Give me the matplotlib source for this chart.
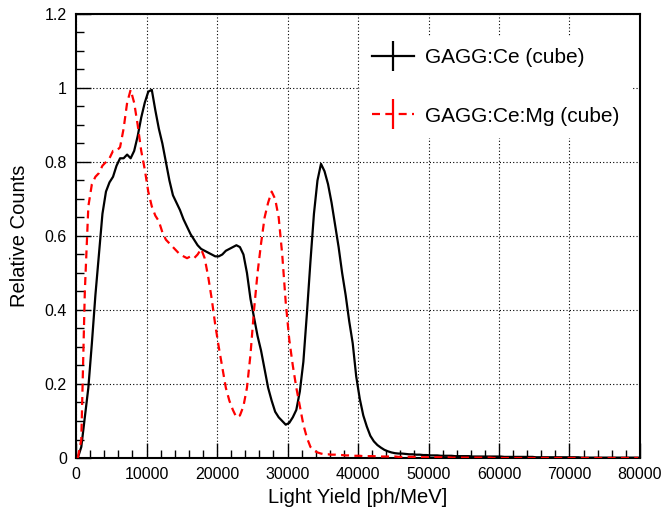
import numpy as np
import matplotlib.pyplot as plt
from matplotlib.lines import Line2D
from matplotlib.ticker import MultipleLocator

plt.rcParams['font.family'] = ['Liberation Sans', 'DejaVu Sans']

# histogram binning: 500 ph/MeV per bin, 0 - 80000
bin_width = 500
edges = np.arange(0, 80000 + bin_width, bin_width)
centers = edges[:-1] + bin_width / 2

# GAGG:Ce (cube), relative counts per bin
ce = [
    0.0, 0.03, 0.11, 0.19, 0.31, 0.44, 0.55, 0.66, 0.72, 0.745,
    0.76, 0.79, 0.81, 0.81, 0.82, 0.81, 0.83, 0.87, 0.92, 0.96,
    0.99, 0.995, 0.94, 0.89, 0.85, 0.80, 0.75, 0.71, 0.69, 0.67,
    0.645, 0.625, 0.605, 0.59, 0.575, 0.565, 0.56, 0.555, 0.55, 0.545,
    0.545, 0.55, 0.56, 0.565, 0.57, 0.575, 0.57, 0.55, 0.50, 0.43,
    0.38, 0.33, 0.29, 0.24, 0.19, 0.155, 0.125, 0.11, 0.10, 0.09,
    0.095, 0.11, 0.13, 0.18, 0.26, 0.39, 0.53, 0.66, 0.75, 0.795,
    0.775, 0.74, 0.69, 0.63, 0.57, 0.50, 0.44, 0.37, 0.31, 0.22,
    0.16, 0.115, 0.085, 0.06, 0.045, 0.035, 0.028, 0.022, 0.018, 0.015,
    0.013, 0.012, 0.012, 0.011, 0.010, 0.010, 0.009, 0.009, 0.008, 0.008,
    0.007, 0.007, 0.007, 0.006, 0.006, 0.006, 0.006, 0.005, 0.005, 0.005,
    0.005, 0.005, 0.004, 0.004, 0.004, 0.004, 0.004, 0.004, 0.004, 0.004,
    0.004, 0.003, 0.003, 0.003, 0.003, 0.003, 0.003, 0.003, 0.003, 0.003,
    0.002, 0.002, 0.002, 0.002, 0.002, 0.002, 0.002, 0.002, 0.002, 0.002,
    0.002, 0.002, 0.002, 0.001, 0.001, 0.001, 0.001, 0.001, 0.001, 0.001,
    0.001, 0.001, 0.001, 0.001, 0.001, 0.001, 0.001, 0.001, 0.001, 0.001,
]

# GAGG:Ce:Mg (cube)
ce_mg = [
    0.0, 0.05, 0.45, 0.68, 0.74, 0.76, 0.77, 0.79, 0.80, 0.81,
    0.83, 0.83, 0.84, 0.89, 0.96, 0.995, 0.96, 0.90, 0.83, 0.78,
    0.72, 0.68, 0.655, 0.64, 0.61, 0.59, 0.58, 0.57, 0.56, 0.55,
    0.545, 0.54, 0.545, 0.54, 0.55, 0.565, 0.54, 0.49, 0.43, 0.36,
    0.30, 0.245, 0.19, 0.155, 0.13, 0.11, 0.115, 0.14, 0.19, 0.28,
    0.40, 0.50, 0.58, 0.65, 0.69, 0.72, 0.70, 0.65, 0.55, 0.42,
    0.32, 0.25, 0.19, 0.14, 0.09, 0.055, 0.03, 0.02, 0.015, 0.012,
    0.010, 0.010, 0.009, 0.009, 0.008, 0.008, 0.007, 0.007, 0.006, 0.006,
    0.006, 0.005, 0.005, 0.005, 0.005, 0.004, 0.004, 0.004, 0.004, 0.004,
    0.004, 0.003, 0.003, 0.003, 0.003, 0.003, 0.003, 0.002, 0.002, 0.002,
    0.002, 0.002, 0.002, 0.002, 0.002, 0.002, 0.001, 0.001, 0.001, 0.001,
    0.001, 0.001, 0.001, 0.001, 0.001, 0.001, 0.001, 0.001, 0.0, 0.0,
    0.0, 0.0, 0.0, 0.0, 0.0, 0.0, 0.0, 0.0, 0.0, 0.0,
    0.0, 0.0, 0.0, 0.0, 0.0, 0.0, 0.0, 0.0, 0.0, 0.0,
    0.0, 0.0, 0.0, 0.0, 0.0, 0.0, 0.0, 0.0, 0.0, 0.0,
    0.0, 0.0, 0.0, 0.0, 0.0, 0.0, 0.0, 0.0, 0.0, 0.0,
]

labels = ["GAGG:Ce (cube)", "GAGG:Ce:Mg (cube)"]

fig = plt.figure(figsize=(6.65, 5.16), dpi=100)
ax = fig.add_axes([0.1143, 0.1124, 0.8481, 0.8605])

dash = (0, (3.6, 2.4))
# fine-binned histograms drawn as lines through the bin centres
ax.plot(centers, ce, color='black', lw=1.6, zorder=3)
ax.plot(centers, ce_mg, color='red', lw=1.6, linestyle=dash, zorder=3)

ax.set_xlim(0, 80000)
ax.set_ylim(0, 1.2)
ax.xaxis.set_major_locator(MultipleLocator(10000))
ax.xaxis.set_minor_locator(MultipleLocator(2000))
ax.yaxis.set_minor_locator(MultipleLocator(0.05))
ax.set_yticks([0, 0.2, 0.4, 0.6, 0.8, 1.0, 1.2], ['0', '0.2', '0.4', '0.6', '0.8', '1', '1.2'])

ax.tick_params(which='both', direction='in', top=False, right=False,
               labelsize=11.5, pad=6.5, width=1)
ax.tick_params(which='major', length=11)
ax.tick_params(which='minor', length=6)
for s in ax.spines.values():
    s.set_linewidth(1.5)

ax.grid(True, which='major', color='black', linestyle=(0, (1, 2)), linewidth=0.8)
ax.set_axisbelow(True)

ax.set_xlabel("Light Yield [ph/MeV]", fontsize=14.5, labelpad=4)
ax.set_ylabel("Relative Counts", fontsize=14.5, labelpad=11)

# legend with cross-shaped markers like error bars
h1 = Line2D([], [], color='black', lw=1.6, marker='|', markersize=22, markeredgewidth=1.6)
h2 = Line2D([], [], color='red', lw=1.6, linestyle=dash, marker='|', markersize=22, markeredgewidth=1.6)
leg = ax.legend([h1, h2], labels, loc='upper left', bbox_to_anchor=(0.485, 0.975),
                fontsize=15, frameon=True, fancybox=False, edgecolor='none',
                facecolor='white', framealpha=1, handlelength=2.0,
                handletextpad=0.5, labelspacing=1.9, numpoints=1, borderpad=0.6)
leg.set_zorder(5)

fig.savefig("out.png", dpi=100)
